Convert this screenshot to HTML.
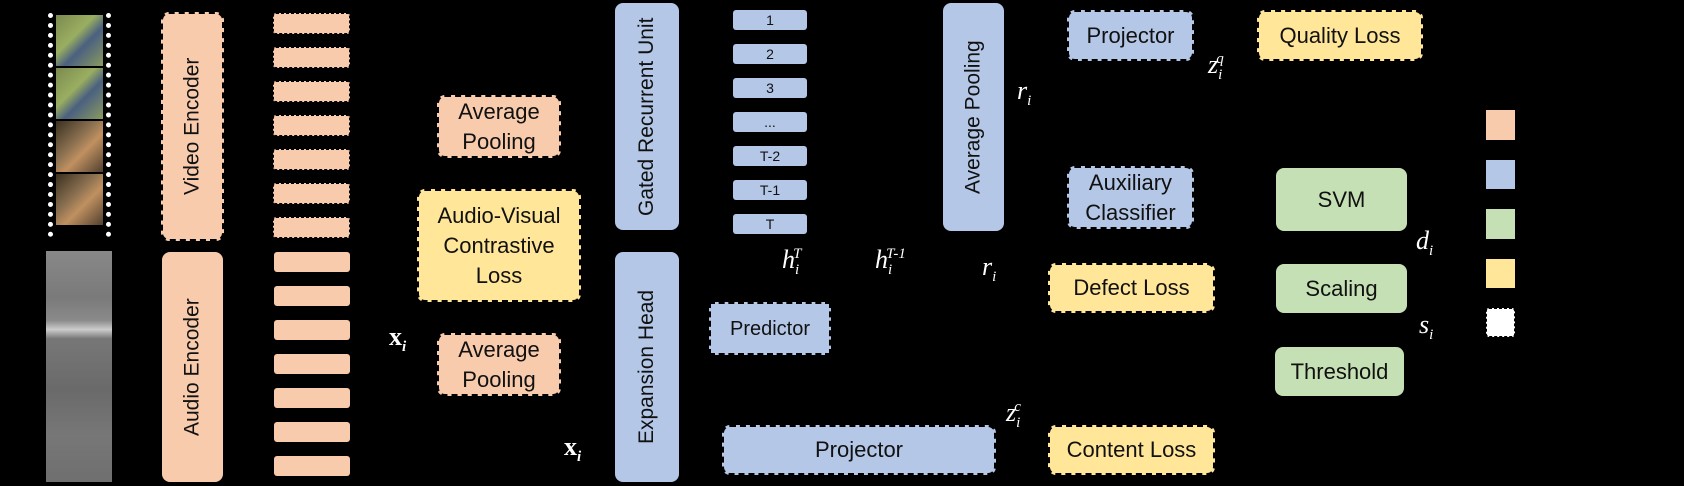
<!DOCTYPE html>
<html><head><meta charset="utf-8"><style>
body{margin:0;background:#000;}
#c{position:relative;width:1684px;height:486px;background:#000;overflow:hidden;font-family:"Liberation Sans Narrow","Liberation Sans",sans-serif;color:#111;}
.b{position:absolute;box-sizing:border-box;display:flex;align-items:center;justify-content:center;text-align:center;font-size:22px;line-height:30px;border-radius:8px;}
.pe{background:#f8cbad}.bl{background:#b4c7e7}.gr{background:#c5e0b4}.ye{background:#ffe699}
.d{border:2px dashed #000;outline:1px solid transparent}
.v{writing-mode:vertical-rl;transform:rotate(180deg);font-family:"Liberation Sans",sans-serif;font-size:21px;}
.t{position:absolute;box-sizing:border-box;border-radius:3px;}
.s{position:absolute;box-sizing:border-box;border-radius:3px;background:#b4c7e7;font-size:14px;display:flex;align-items:center;justify-content:center;}
.m{position:absolute;color:#fff;font-family:"Liberation Serif",serif;font-style:italic;font-size:26px;}
.m sub,.m sup{font-size:15px;}
</style></head><body><div id="c">
<!-- film strip -->
<div style="position:absolute;left:48px;top:13px;width:63px;height:224px;background:#000;border-left:5px dotted #fff;border-right:5px dotted #fff;box-sizing:border-box;">
<div style="margin:2px 3px;height:51px;background:linear-gradient(135deg,#7a8a50,#9aae60 40%,#4a6080 60%,#8a9a60)"></div>
<div style="margin:2px 3px;height:51px;background:linear-gradient(135deg,#7a8a50,#9aae60 40%,#4a6080 60%,#8a9a60)"></div>
<div style="margin:2px 3px;height:51px;background:linear-gradient(135deg,#3a3020,#8a7050 40%,#c09060 60%,#504030)"></div>
<div style="margin:2px 3px;height:51px;background:linear-gradient(135deg,#3a3020,#8a7050 40%,#c09060 60%,#504030)"></div>
</div>
<div style="position:absolute;left:46px;top:251px;width:66px;height:231px;background:linear-gradient(180deg,#888 0%,#7a7a7a 20%,#8a8a8a 30%,#ccc 34%,#777 38%,#6a6a6a 60%,#777 80%,#6f6f6f 100%)"></div>

<div class="b pe d v" style="left:161px;top:12px;width:63px;height:229px;">Video Encoder</div>
<div class="b pe v" style="left:162px;top:252px;width:61px;height:230px;">Audio Encoder</div>

<div class="t pe d" style="left:273px;top:13px;width:77px;height:21px;border-width:1px"></div>
<div class="t pe d" style="left:273px;top:47px;width:77px;height:21px;border-width:1px"></div>
<div class="t pe d" style="left:273px;top:81px;width:77px;height:21px;border-width:1px"></div>
<div class="t pe d" style="left:273px;top:115px;width:77px;height:21px;border-width:1px"></div>
<div class="t pe d" style="left:273px;top:149px;width:77px;height:21px;border-width:1px"></div>
<div class="t pe d" style="left:273px;top:183px;width:77px;height:21px;border-width:1px"></div>
<div class="t pe d" style="left:273px;top:217px;width:77px;height:21px;border-width:1px"></div>
<div class="t pe" style="left:274px;top:252px;width:76px;height:20px"></div>
<div class="t pe" style="left:274px;top:286px;width:76px;height:20px"></div>
<div class="t pe" style="left:274px;top:320px;width:76px;height:20px"></div>
<div class="t pe" style="left:274px;top:354px;width:76px;height:20px"></div>
<div class="t pe" style="left:274px;top:388px;width:76px;height:20px"></div>
<div class="t pe" style="left:274px;top:422px;width:76px;height:20px"></div>
<div class="t pe" style="left:274px;top:456px;width:76px;height:20px"></div>

<div class="b pe d" style="left:437px;top:95px;width:124px;height:63px;">Average<br>Pooling</div>
<div class="b ye d" style="left:417px;top:189px;width:164px;height:113px;">Audio-Visual<br>Contrastive<br>Loss</div>
<div class="b pe d" style="left:437px;top:333px;width:124px;height:63px;">Average<br>Pooling</div>
<div class="m" style="left:389px;top:322px;font-style:normal;font-weight:bold">x<sub><i>i</i></sub></div>
<div class="m" style="left:564px;top:432px;font-style:normal;font-weight:bold">x<sub><i>i</i></sub></div>

<div class="b bl v" style="left:615px;top:3px;width:64px;height:227px;">Gated Recurrent Unit</div>
<div class="b bl v" style="left:615px;top:252px;width:64px;height:230px;">Expansion Head</div>

<div class="s" style="left:733px;top:10px;width:74px;height:20px">1</div>
<div class="s" style="left:733px;top:44px;width:74px;height:20px">2</div>
<div class="s" style="left:733px;top:78px;width:74px;height:20px">3</div>
<div class="s" style="left:733px;top:112px;width:74px;height:20px">...</div>
<div class="s" style="left:733px;top:146px;width:74px;height:20px">T-2</div>
<div class="s" style="left:733px;top:180px;width:74px;height:20px">T-1</div>
<div class="s" style="left:733px;top:214px;width:74px;height:20px">T</div>

<div class="b bl d" style="left:709px;top:302px;width:122px;height:53px;border-radius:0;font-size:20px">Predictor</div>
<div class="m" style="left:782px;top:245px">h<sub>i</sub><sup style="position:relative;left:-6px">T</sup></div>
<div class="m" style="left:875px;top:245px">h<sub>i</sub><sup style="position:relative;left:-6px">T-1</sup></div>
<div class="m" style="left:982px;top:252px">r<sub>i</sub></div>

<div class="b bl v" style="left:943px;top:3px;width:61px;height:228px;">Average Pooling</div>
<div class="m" style="left:1017px;top:76px">r<sub>i</sub></div>

<div class="b bl d" style="left:1067px;top:10px;width:127px;height:51px;">Projector</div>
<div class="b ye d" style="left:1257px;top:10px;width:166px;height:51px;">Quality Loss</div>
<div class="m" style="left:1208px;top:50px">z<sub>i</sub><sup style="position:relative;left:-6px">q</sup></div>
<div class="b bl d" style="left:1067px;top:166px;width:127px;height:63px;">Auxiliary<br>Classifier</div>
<div class="b ye d" style="left:1048px;top:263px;width:167px;height:50px;">Defect Loss</div>
<div class="b bl d" style="left:722px;top:425px;width:274px;height:50px;">Projector</div>
<div class="b ye d" style="left:1048px;top:425px;width:167px;height:50px;">Content Loss</div>
<div class="m" style="left:1006px;top:398px">z<sub>i</sub><sup style="position:relative;left:-6px">c</sup></div>

<div class="b gr" style="left:1276px;top:168px;width:131px;height:63px;">SVM</div>
<div class="b gr" style="left:1276px;top:264px;width:131px;height:49px;">Scaling</div>
<div class="b gr" style="left:1275px;top:347px;width:129px;height:49px;">Threshold</div>
<div class="m" style="left:1416px;top:226px">d<sub>i</sub></div>
<div class="m" style="left:1419px;top:310px">s<sub>i</sub></div>

<div class="t pe" style="left:1486px;top:110px;width:29px;height:30px;border-radius:0"></div>
<div class="t bl" style="left:1486px;top:160px;width:29px;height:29px;border-radius:0"></div>
<div class="t gr" style="left:1486px;top:209px;width:29px;height:30px;border-radius:0"></div>
<div class="t ye" style="left:1486px;top:259px;width:29px;height:29px;border-radius:0"></div>
<div class="t" style="left:1486px;top:308px;width:29px;height:29px;background:#fff;border:1px dashed #000"></div>
</div></body></html>
